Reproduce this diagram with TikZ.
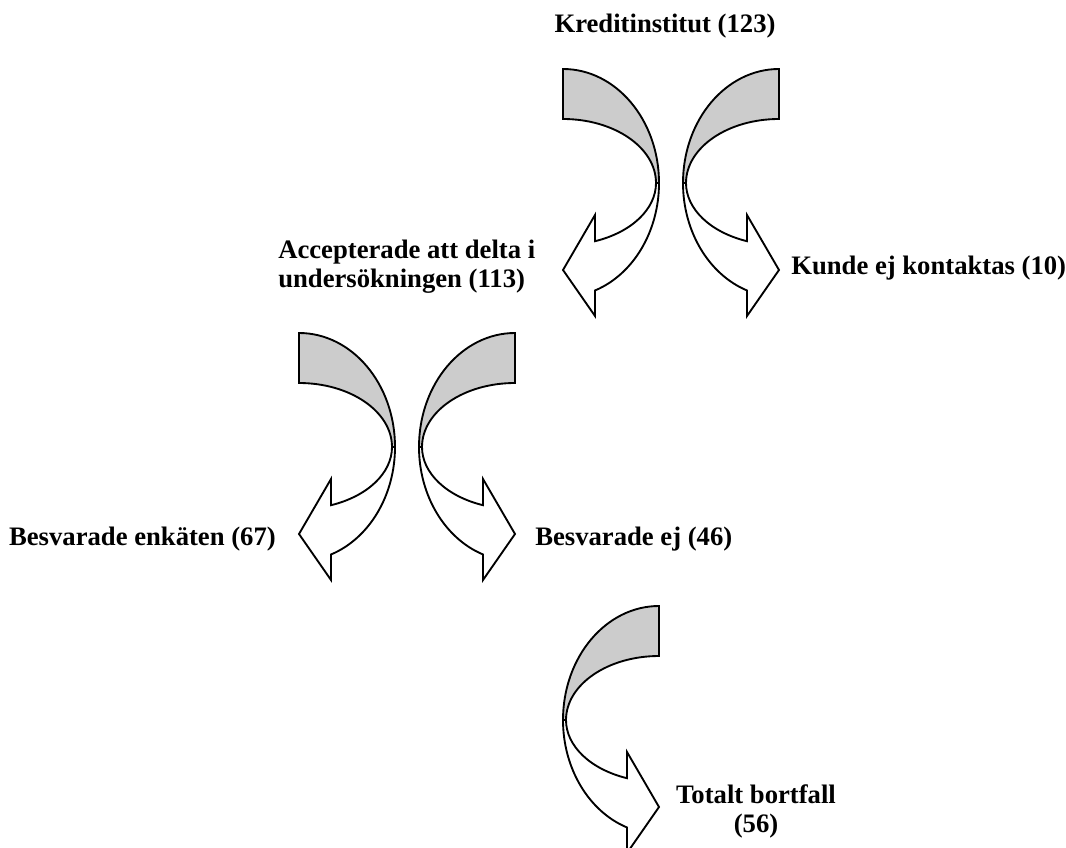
\documentclass[tikz,border=0pt]{standalone}
\usepackage{fontspec}
\setmainfont{Liberation Serif}

\definecolor{bandgray}{gray}{0.8}

% curved block arrow: #1 = centre of the bend, #2 = 1 (head left) or -1 (head right)
\newcommand{\bentarrow}[2]{%
  \begin{scope}[shift={#1}, xscale=#2]
    % back of the band
    \draw[band, fill=bandgray] (0,114) arc[start angle=90, end angle=0, x radius=96, y radius=114]
      -- (93,0) arc[start angle=0, end angle=90, x radius=93, y radius=64] -- cycle;
    % front of the band with the head
    \draw[band, fill=white] (96,0) arc[start angle=0, end angle=-70.53, x radius=96, y radius=114]
      -- (32,-133) -- (0,-87) -- (32,-32) -- (32,-58.2)
      arc[start angle=-69.88, end angle=0, x radius=93, y radius=62] -- cycle;
  \end{scope}}

\begin{document}
\begin{tikzpicture}[x=0.75pt, y=0.75pt,
    band/.style={line width=1.4pt},
    boxtext/.style={font=\bfseries\fontsize{20}{21.75}\selectfont, inner sep=0pt}]
  \useasboundingbox (0,0) rectangle (1066,-848);

  % Arrows
  \bentarrow{(563,-183)}{1}
  \bentarrow{(779,-183)}{-1}
  \bentarrow{(299,-447)}{1}
  \bentarrow{(515,-447)}{-1}
  \bentarrow{(659,-720)}{-1}

  % Labels
  \node[boxtext, anchor=base] (kredit) at (665,-33) {Kreditinstitut (123)};
  \node[boxtext, anchor=base west, align=left] (accept) at (278,-288)
    {Accepterade att delta i\\undersökningen (113)};
  \node[boxtext, anchor=base west] (kontakt) at (791,-275) {Kunde ej kontaktas (10)};
  \node[boxtext, anchor=base east] (svar) at (276,-545) {Besvarade enkäten (67)};
  \node[boxtext, anchor=base west] (ejsvar) at (535,-545) {Besvarade ej (46)};
  \node[boxtext, anchor=base, align=center] (bortfall) at (756,-832)
    {Totalt bortfall\\(56)};
\end{tikzpicture}
\end{document}
